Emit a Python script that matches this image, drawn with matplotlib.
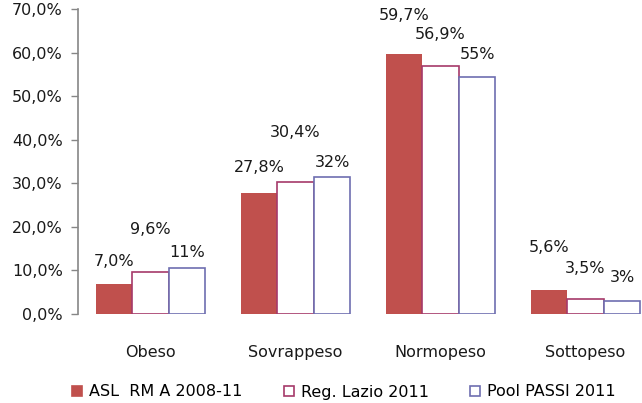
import numpy as np
import matplotlib.pyplot as plt
from matplotlib.patches import Patch

categorie = ["Obeso", "Sovrappeso", "Normopeso", "Sottopeso"]
serie = ["ASL  RM A 2008-11", "Reg. Lazio 2011", "Pool PASSI 2011"]
asl = [7.0, 27.8, 59.7, 5.6]
lazio = [9.6, 30.4, 56.9, 3.5]
passi = [10.5, 31.5, 54.5, 3.0]
etichette = [
    ["7,0%", "27,8%", "59,7%", "5,6%"],
    ["9,6%", "30,4%", "56,9%", "3,5%"],
    ["11%", "32%", "55%", "3%"],
]

# spostamento verticale delle etichette (pixel sopra la barra)
scarto = [
    [15, 18, 31, 35],
    [35, 42, 24, 23],
    [8, 7, 15, 16],
]

plt.rcParams['font.family'] = ['DejaVu Sans']
fs = 11.5

fig = plt.figure(figsize=(6.42, 4.03), dpi=100)
ax = fig.add_axes([78 / 642, 89 / 403, 580 / 642, 305 / 403])

x = np.arange(len(categorie))
w = 0.252
valori = [asl, lazio, passi]
facce = ["#C0504D", "white", "white"]
bordi = ["#C0504D", "#A63A6A", "#6E6EB0"]
lw = [0, 1.2, 1.2]

for i, v in enumerate(valori):
    pos = x + (i - 1) * w
    ax.bar(pos, v, width=w, color=facce[i], edgecolor=bordi[i], linewidth=lw[i], label=serie[i])
    for j in range(len(categorie)):
        ax.annotate(etichette[i][j], (pos[j], v[j]), xytext=(0, scarto[i][j] * 0.72),
                    textcoords="offset points", ha="center", va="bottom",
                    fontsize=fs, color="#1a1a1a")

ax.set_xlim(-0.5, 3.5)
ax.set_ylim(0, 70)
ax.set_yticks(np.arange(0, 71, 10))
ax.set_yticklabels([f"{t},0%" for t in range(0, 71, 10)])
ax.set_xticks(x)
ax.set_xticklabels(categorie)
ax.tick_params(axis='y', length=5, width=1, color="#868686", pad=6, labelsize=fs, labelcolor="#1a1a1a")
ax.tick_params(axis='x', length=0, pad=22, labelsize=fs, labelcolor="#1a1a1a")
for s in ["top", "right", "bottom"]:
    ax.spines[s].set_visible(False)
ax.spines["left"].set_color("#868686")
ax.spines["left"].set_linewidth(1.2)

handles = [Patch(facecolor=facce[i], edgecolor=bordi[i], linewidth=1.2) for i in range(3)]
fig.legend(handles, serie, loc="center", bbox_to_anchor=(0.536, 11 / 403), ncol=3,
           frameon=False, fontsize=fs, handlelength=0.6, handleheight=0.6,
           handletextpad=0.45, columnspacing=2.6)

fig.savefig("out.png", dpi=100)
